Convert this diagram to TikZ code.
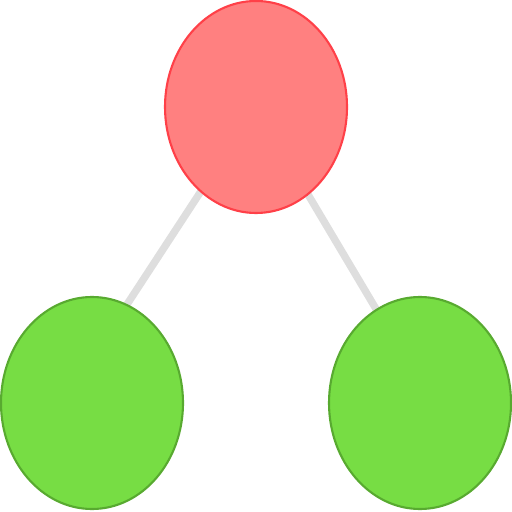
\documentclass[tikz,border=0pt]{standalone}
\usepackage{xcolor}
\usetikzlibrary{shapes.geometric,backgrounds}
\definecolor{rootfill}{RGB}{255,128,128}
\definecolor{rootline}{RGB}{255,64,72}
\definecolor{leaffill}{RGB}{119,221,68}
\definecolor{leafline}{RGB}{88,170,48}
\definecolor{edgegray}{RGB}{222,222,222}

\begin{document}
\begin{tikzpicture}[
    vert/.style={ellipse, draw=#1line, fill=#1fill, line width=0.6pt,
                 inner sep=0pt, minimum width=1.82cm, minimum height=2.12cm},
    link/.style={edgegray, line width=2.1pt}]

    \useasboundingbox (0,0) rectangle (5.12,-5.12);

    % tree vertices
    \node[vert=root] (top)   at (2.56,-1.07) {};
    \node[vert=leaf] (left)  at (0.92,-4.03) {};
    \node[vert=leaf] (right) at (4.20,-4.03) {};

    % edges, behind the vertices
    \begin{scope}[on background layer]
      \draw[link] (top.center) -- ([yshift=0.45cm]left.center);
      \draw[link] (top.center) -- ([yshift=0.2cm]right.center);
    \end{scope}
  \end{tikzpicture}
\end{document}
